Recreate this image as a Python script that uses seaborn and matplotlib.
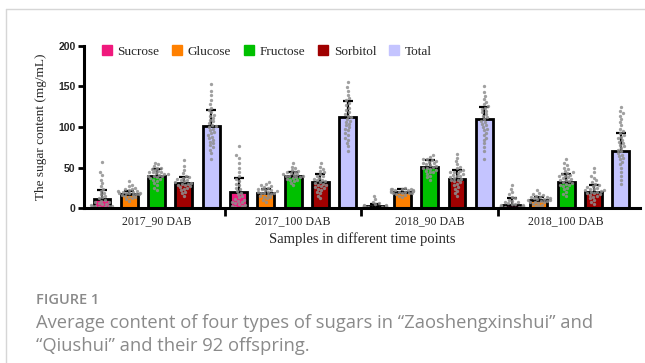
import numpy as np
import pandas as pd
import matplotlib
matplotlib.use("Agg")
import matplotlib.pyplot as plt
from matplotlib.lines import Line2D
import seaborn as sns

# ---- data -----------------------------------------------------------------
groups = ["2017_90 DAB", "2017_100 DAB", "2018_90 DAB", "2018_100 DAB"]
sugars = ["Sucrose", "Glucose", "Fructose", "Sorbitol", "Total"]
colors = ["#F0197D", "#FF8000", "#00C000", "#A00000", "#C4C4FF"]

# mean content (mg/mL) per time point
sucrose_mean = [10.5, 19.5, 2.5, 4.0]
glucose_mean = [17.0, 18.5, 20.0, 10.0]
fructose_mean = [40.0, 39.5, 51.0, 31.5]
sorbitol_mean = [30.5, 31.5, 36.0, 19.5]
total_mean = [101.0, 112.0, 109.5, 70.5]

# standard deviation per time point
sucrose_sd = [12.0, 18.0, 3.0, 8.0]
glucose_sd = [4.0, 5.0, 3.0, 3.0]
fructose_sd = [8.0, 5.0, 8.0, 10.0]
sorbitol_sd = [8.0, 10.0, 11.0, 9.0]
total_sd = [20.0, 20.0, 15.0, 22.0]

# individual offspring measurements
pts_2017_90 = {
    "Sucrose": [57, 44, 41, 35, 31, 27, 24, 21, 19, 17, 15, 13, 12, 10, 9, 8, 7, 6, 5, 5, 4, 3, 3, 2, 2, 1, 1, 0.5],
    "Glucose": [33, 29, 27, 25, 24, 23, 22, 21, 21, 20, 20, 19, 19, 18, 18, 17, 17, 16, 16, 15, 14, 13, 12, 11, 9],
    "Fructose": [56, 54, 52, 50, 49, 48, 47, 46, 45, 44, 44, 43, 42, 42, 41, 40, 40, 39, 38, 37, 36, 35, 33, 31, 28, 25, 22],
    "Sorbitol": [59, 52, 47, 43, 40, 38, 37, 36, 35, 34, 33, 32, 31, 30, 30, 29, 28, 27, 26, 25, 24, 22, 20, 18, 15],
    "Total": [153, 145, 140, 133, 128, 124, 121, 118, 115, 113, 111, 109, 107, 105, 103, 101, 100, 98, 96, 94, 92, 90, 88, 86, 84, 82, 80, 78, 75, 72, 68, 60],
}
pts_2017_100 = {
    "Sucrose": [77, 65, 62, 55, 50, 45, 40, 36, 33, 30, 28, 25, 23, 21, 19, 17, 15, 13, 11, 10, 9, 8, 7, 6, 5, 4, 3, 2, 1, 0.5],
    "Glucose": [32, 30, 28, 27, 26, 25, 24, 23, 22, 22, 21, 20, 20, 19, 19, 18, 17, 16, 15, 14, 13, 12, 10, 8],
    "Fructose": [55, 51, 49, 47, 46, 45, 44, 43, 42, 42, 41, 40, 40, 39, 38, 38, 37, 36, 35, 34, 33, 31, 28],
    "Sorbitol": [55, 51, 48, 46, 44, 42, 40, 39, 37, 36, 35, 34, 33, 32, 31, 30, 29, 28, 27, 26, 25, 24, 22, 20, 18, 15, 12],
    "Total": [156, 149, 145, 140, 136, 133, 130, 127, 124, 121, 118, 116, 114, 112, 110, 108, 106, 104, 102, 100, 98, 96, 93, 90, 87, 84, 80, 76, 70],
}
pts_2018_90 = {
    "Sucrose": [15, 11, 8, 6, 5, 4, 4, 3, 3, 3, 2, 2, 2, 2, 1, 1, 1, 1, 0.5, 0.5, 0.5],
    "Glucose": [25, 24, 24, 23, 23, 22, 22, 22, 21, 21, 21, 20, 20, 20, 19, 19, 18, 18, 17, 16, 15, 14],
    "Fructose": [65, 63, 61, 60, 59, 58, 57, 56, 55, 54, 53, 52, 51, 50, 49, 48, 47, 46, 45, 44, 42, 40, 38, 35],
    "Sorbitol": [67, 62, 58, 54, 51, 49, 47, 46, 45, 44, 43, 42, 41, 40, 39, 38, 37, 36, 35, 34, 33, 32, 30, 28, 26, 24, 21, 18, 15],
    "Total": [150, 143, 138, 134, 131, 128, 126, 124, 122, 120, 118, 116, 114, 112, 110, 108, 106, 104, 102, 100, 98, 96, 93, 90, 87, 84, 80, 75, 70, 60],
}
pts_2018_100 = {
    "Sucrose": [28, 24, 20, 17, 14, 12, 10, 9, 8, 7, 6, 5, 5, 4, 4, 3, 3, 2, 2, 2, 1, 1, 1, 0.5, 0.5, 0.5],
    "Glucose": [22, 19, 17, 16, 15, 14, 13, 13, 12, 12, 11, 11, 10, 10, 9, 9, 8, 8, 7, 6, 5, 4, 3, 2],
    "Fructose": [60, 56, 53, 50, 48, 46, 44, 43, 42, 41, 40, 39, 38, 37, 36, 35, 34, 33, 32, 31, 30, 29, 28, 27, 25, 23, 20, 17, 15],
    "Sorbitol": [50, 44, 40, 37, 34, 32, 30, 28, 27, 26, 25, 24, 23, 22, 22, 21, 20, 20, 19, 18, 17, 16, 15, 14, 12, 10, 8, 5],
    "Total": [125, 120, 117, 114, 110, 106, 102, 98, 95, 92, 90, 88, 86, 84, 82, 80, 78, 76, 74, 72, 70, 68, 66, 64, 62, 60, 57, 54, 50, 45, 40, 35, 30],
}

y_ticks = [0, 50, 100, 150, 200]

# ---- tidy tables ----------------------------------------------------------
means = dict(zip(sugars, [sucrose_mean, glucose_mean, fructose_mean, sorbitol_mean, total_mean]))
sds = dict(zip(sugars, [sucrose_sd, glucose_sd, fructose_sd, sorbitol_sd, total_sd]))
points = dict(zip(groups, [pts_2017_90, pts_2017_100, pts_2018_90, pts_2018_100]))

order = [f"{g}|{s}" for g in groups for s in sugars]
bar_rows, pt_rows = [], []
for gi, g in enumerate(groups):
    for s in sugars:
        key = f"{g}|{s}"
        bar_rows.append({"bar": key, "sugar": s, "mean": means[s][gi], "sd": sds[s][gi]})
        for v in points[g][s]:
            pt_rows.append({"bar": key, "value": v})
bars_df = pd.DataFrame(bar_rows)
pts_df = pd.DataFrame(pt_rows)

# ---- figure ---------------------------------------------------------------
sns.set_theme(style="white")
serif = "Liberation Serif"
W, H = 645, 363
fig = plt.figure(figsize=(W / 100, H / 100), dpi=100)
fig.patch.set_facecolor("white")
ax = fig.add_axes([84 / W, 1 - 208 / H, (640 - 84) / W, (208 - 46) / H])

xpos = np.arange(len(order))
# error bars sit behind the bars so only the upper whisker shows
ax.errorbar(xpos, bars_df["mean"], yerr=bars_df["sd"], fmt="none",
            ecolor="black", elinewidth=1.6, capsize=3.5, capthick=1.6, zorder=1)

palette = dict(zip(sugars, colors))
sns.barplot(data=bars_df, x="bar", y="mean", hue="sugar", order=order,
            hue_order=sugars, palette=palette, dodge=False, width=0.62,
            errorbar=None, edgecolor="black", linewidth=2.0, saturation=1,
            legend=False, ax=ax, zorder=2)

sns.swarmplot(data=pts_df, x="bar", y="value", order=order, color="#8f8f8f",
              size=2.4, linewidth=0, alpha=0.85, ax=ax, zorder=4, warn_thresh=1)

ax.set_ylim(0, 200)
ax.set_xlim(-0.66, 19.7)
ax.set_yticks(y_ticks)
ax.set_yticklabels([str(t) for t in y_ticks], fontfamily="Liberation Sans",
                   fontweight="bold", fontsize=7.5)

# group labels under each block of five bars, separator ticks between blocks
ax.set_xticks([2, 7, 12, 17])
ax.set_xticklabels(groups, fontfamily=serif, fontsize=8.5)
ax.set_xticks([4.5, 9.5, 14.5], minor=True)
ax.tick_params(axis="x", which="major", length=0, pad=5)
ax.tick_params(axis="x", which="minor", length=6, width=2, color="black", bottom=True)
ax.tick_params(axis="y", length=4.5, width=2, color="black", left=True, pad=1.5)

for side in ["top", "right"]:
    ax.spines[side].set_visible(False)
for side in ["left", "bottom"]:
    ax.spines[side].set_color("black")
    ax.spines[side].set_linewidth(2.2)
    ax.spines[side].set_zorder(5)

ax.set_xlabel("Samples in different time points", fontfamily=serif, fontsize=10.5, labelpad=4)
ax.set_ylabel("The sugar content (mg/mL)", fontfamily=serif, fontsize=9.5, labelpad=8)
ax.grid(False)

handles = [Line2D([], [], marker="s", linestyle="none", markersize=7,
                  markerfacecolor=c, markeredgecolor=c) for c in colors]
ax.legend(handles, sugars, ncol=5, loc="center left", bbox_to_anchor=(0.02, 0.965),
          frameon=False, prop={"family": serif, "size": 9.5}, handletextpad=0.3,
          columnspacing=0.85, handlelength=1.0, borderaxespad=0)

# card frame and caption
fig.add_artist(Line2D([6 / W, 6 / W], [0, 1 - 9 / H], color="#d6d6d6", lw=1))
fig.add_artist(Line2D([6 / W, 1], [1 - 9 / H, 1 - 9 / H], color="#d6d6d6", lw=1))
fig.text(36 / W, 1 - 300 / H, "FIGURE 1", fontfamily="Open Sans", fontweight="semibold",
         fontsize=10.5, color="#8a8a8a", va="center", ha="left")
fig.text(36 / W, 1 - 323 / H,
         "Average content of four types of sugars in \u201cZaoshengxinshui\u201d and",
         fontfamily="Open Sans", fontsize=13.2, color="#8a8a8a", va="center", ha="left")
fig.text(36 / W, 1 - 346 / H, "\u201cQiushui\u201d and their 92 offspring.",
         fontfamily="Open Sans", fontsize=13.2, color="#8a8a8a", va="center", ha="left")

fig.savefig("out.png", dpi=100)
